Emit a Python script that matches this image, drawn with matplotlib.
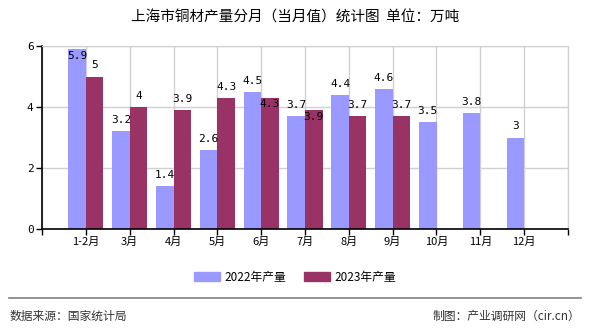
import numpy as np
import matplotlib
matplotlib.use("Agg")
import matplotlib.pyplot as plt
from matplotlib.patches import Patch

plt.rcParams['font.family'] = ['Noto Sans CJK SC', 'DejaVu Sans']

# data
months = ['1-2月', '3月', '4月', '5月', '6月', '7月', '8月', '9月', '10月', '11月', '12月']
prod_2022 = [5.9, 3.2, 1.4, 2.6, 4.5, 3.7, 4.4, 4.6, 3.5, 3.8, 3.0]
prod_2023 = [5.0, 4.0, 3.9, 4.3, 4.3, 3.9, 3.7, 3.7]
yticks = [0, 2, 4, 6]

c22 = '#9999ff'
c23 = '#993366'


def main():
    fig = plt.figure(figsize=(5.9, 3.3), dpi=100)
    ax = fig.add_axes([42/590, 1-229/330, 526/590, 183/330])

    x = np.arange(1, len(months) + 1)
    w = 0.4
    b1 = ax.bar(x[:len(prod_2022)] - w/2, prod_2022, w, color=c22, zorder=2)
    b2 = ax.bar(x[:len(prod_2023)] + w/2, prod_2023, w, color=c23, zorder=2)

    # value labels (a few sit inside the bar like in the original)
    inside22 = {0}
    inside23 = {4, 5}
    for i, v in enumerate(prod_2022):
        if i in inside22:
            ax.text(x[i] - w/2, v - 0.05, f'{v:g}', ha='center', va='top',
                    fontsize=8, family='DejaVu Sans Mono', zorder=3)
        else:
            ax.text(x[i] - w/2, v + 0.2, f'{v:g}', ha='center', va='bottom',
                    fontsize=8, family='DejaVu Sans Mono', zorder=3)
    for i, v in enumerate(prod_2023):
        if i in inside23:
            ax.text(x[i] + w/2, v - 0.05, f'{v:g}', ha='center', va='top',
                    fontsize=8, family='DejaVu Sans Mono', zorder=3)
        else:
            ax.text(x[i] + w/2, v + 0.2, f'{v:g}', ha='center', va='bottom',
                    fontsize=8, family='DejaVu Sans Mono', zorder=3)

    ax.set_xlim(0, len(months) + 1)
    ax.set_ylim(0, 6)
    ax.set_yticks(yticks)
    ax.set_yticklabels([str(t) for t in yticks], fontsize=8, family='DejaVu Sans Mono')
    ax.set_xticks(np.arange(0, len(months) + 2))
    ax.set_xticklabels([''] + months + [''], fontsize=8)
    ax.tick_params(axis='both', length=4, width=1, color='black', pad=2)

    # grid
    ax.grid(True, color='#d0d0d0', lw=1, zorder=0)
    for s in ['top', 'right']:
        ax.spines[s].set_color('#d0d0d0')
    for s in ['left', 'bottom']:
        ax.spines[s].set_color('black')
        ax.spines[s].set_linewidth(1.2)

    # title
    fig.text(0.5, 1-18/330, '上海市铜材产量分月（当月值）统计图  单位：万吨',
             ha='center', va='center', fontsize=10.5)

    # legend
    fig.legend(handles=[Patch(color=c22, label='2022年产量'),
                        Patch(color=c23, label='2023年产量')],
               loc='center', bbox_to_anchor=(0.5, 1-277/330), ncol=2,
               frameon=False, fontsize=8.5, handlelength=2.2, handleheight=0.8,
               columnspacing=1.5, handletextpad=0.4)

    # footer
    fig.add_artist(plt.Line2D([9/590, 581/590], [1-298/330, 1-298/330],
                              color='#808080', lw=1.2))
    fig.text(10/590, 1-316/330, '数据来源：国家统计局', ha='left', va='center',
             fontsize=8.5, color='#333333')
    fig.text(580/590, 1-316/330, '制图：产业调研网（cir.cn）', ha='right', va='center',
             fontsize=8.5, color='#333333')

    plt.savefig('out.png', dpi=100)


if __name__ == "__main__":
    main()
